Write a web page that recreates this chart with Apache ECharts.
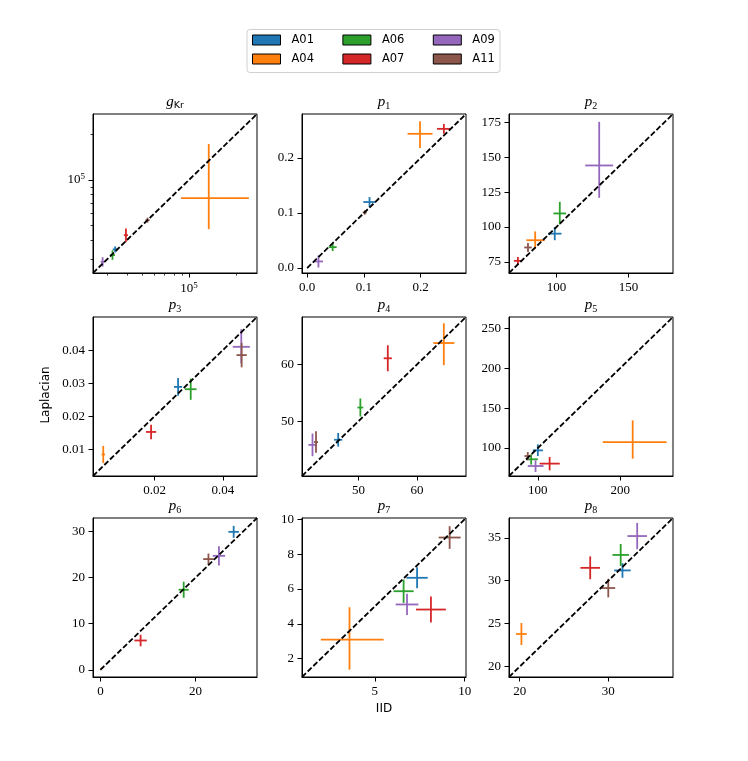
<!DOCTYPE html>
<html>
<head>
<meta charset="utf-8">
<script src="https://cdn.jsdelivr.net/npm/echarts@6/dist/echarts.min.js"></script>
<style>
  html, body { margin: 0; padding: 0; background: #fff; }
  #main { width: 748px; height: 761px; }
</style>
</head>
<body>
<div id="main"></div>
<script>
var groups = ['A01', 'A04', 'A06', 'A07', 'A09', 'A11'];
var colors = ['#1f77b4', '#ff7f0e', '#2ca02c', '#d62728', '#9467bd', '#8c564b'];

// one row per group: [IID, IID low, IID high, Laplacian, Laplacian low, Laplacian high]
var gKr = [
  [33700, 32500, 35000, 34800, 33200, 36400],
  [134000, 89000, 242000, 76000, 47400, 173000],
  [32400, 31200, 33600, 31900, 29700, 34300],
  [39500, 38300, 40700, 43200, 39000, 47900],
  [28000, 27200, 28800, 28800, 26800, 30900],
  [54300, 52700, 56000, 54300, 52300, 56400]
];
var p1 = [
  [0.110, 0.099, 0.121, 0.120, 0.111, 0.129],
  [0.199, 0.177, 0.221, 0.244, 0.218, 0.267],
  [0.045, 0.038, 0.052, 0.038, 0.031, 0.045],
  [0.241, 0.229, 0.253, 0.253, 0.244, 0.262],
  [0.020, 0.012, 0.028, 0.012, 0.001, 0.023],
  [0.1016, 0.098, 0.105, 0.101, 0.097, 0.105]
];
var p2 = [
  [98.8, 94.1, 103.5, 95.2, 90.5, 99.9],
  [85.2, 79.1, 91.8, 90.5, 84.2, 96.8],
  [102.3, 97.9, 106.7, 109.7, 101.8, 118.0],
  [73.2, 70.4, 76.0, 75.7, 72.9, 78.5],
  [129.7, 120.0, 139.4, 144.1, 120.9, 175.4],
  [80.2, 77.6, 82.8, 85.3, 82.1, 88.5]
];
var p3 = [
  [0.0269, 0.0257, 0.0281, 0.0289, 0.0262, 0.0316],
  [0.0050, 0.0045, 0.0055, 0.0085, 0.0059, 0.0111],
  [0.0306, 0.0289, 0.0323, 0.0282, 0.0250, 0.0314],
  [0.0190, 0.0175, 0.0205, 0.0153, 0.0131, 0.0175],
  [0.0454, 0.0429, 0.0479, 0.0410, 0.0360, 0.0463],
  [0.0455, 0.0440, 0.0470, 0.0385, 0.0348, 0.0422]
];
var p4 = [
  [46.5, 45.8, 47.2, 46.7, 45.5, 47.9],
  [64.6, 62.8, 66.4, 63.8, 59.9, 67.3],
  [50.3, 49.8, 50.8, 52.4, 50.8, 54.0],
  [55.0, 54.3, 55.7, 61.1, 58.8, 63.4],
  [42.1, 41.4, 42.8, 45.8, 43.8, 47.8],
  [42.7, 42.35, 43.05, 46.3, 44.4, 48.2]
];
var p5 = [
  [100, 93.9, 106.1, 97.1, 90, 104.6],
  [215.1, 178.8, 256.3, 107.5, 86.7, 134.6],
  [91.9, 85.8, 100, 85.9, 79.2, 92.1],
  [114.3, 102.1, 126.6, 80.5, 72.1, 88.8],
  [97.2, 87.8, 107, 77.5, 70, 84.6],
  [87.8, 83.7, 91.9, 90, 84.6, 95]
];
var p6 = [
  [28.0, 26.9, 29.1, 29.9, 28.6, 31.2],
  [0.2, 0.1, 0.3, 0.3, 0.2, 0.4],
  [17.5, 16.45, 18.55, 17.35, 15.6, 19.1],
  [8.45, 7.15, 9.75, 6.36, 5.1, 7.6],
  [24.9, 23.6, 26.2, 24.7, 22.6, 26.8],
  [22.7, 21.6, 23.8, 24.0, 22.8, 25.2]
];
var p7 = [
  [7.35, 6.76, 7.94, 6.64, 6.04, 7.24],
  [3.59, 2.0, 5.49, 3.09, 1.37, 4.95],
  [6.60, 6.04, 7.16, 5.87, 5.2, 6.54],
  [8.12, 7.29, 8.95, 4.82, 4.07, 5.57],
  [6.79, 6.16, 7.42, 5.11, 4.5, 5.72],
  [9.16, 8.55, 9.77, 8.95, 8.3, 9.6]
];
var p8 = [
  [31.6, 30.67, 32.53, 31.2, 30.35, 32.05],
  [20.2, 19.6, 20.8, 23.8, 22.52, 25.08],
  [31.4, 30.47, 32.33, 33.0, 31.72, 34.28],
  [27.96, 26.86, 29.06, 31.5, 30.17, 32.83],
  [33.26, 32.16, 34.36, 35.2, 33.67, 36.73],
  [30.0, 29.22, 30.78, 29.15, 28.07, 30.23]
];

var panelData = [gKr, p1, p2, p3, p4, p5, p6, p7, p8];
var panelTitles = ['{p|g}{k|Kr}', '{p|p}{s|1}', '{p|p}{s|2}', '{p|p}{s|3}', '{p|p}{s|4}',
                   '{p|p}{s|5}', '{p|p}{s|6}', '{p|p}{s|7}', '{p|p}{s|8}'];
var axisRanges = [[24300, 273000], [-0.009, 0.28], [67, 181], [0.002, 0.050], [40.3, 68.4],
                  [65, 264], [-1.55, 32.9], [0.95, 10.07], [18.8, 37.3]];
var diagRanges = [[24300, 273000], [0, 0.28], [67, 181], [0.002, 0.050], [40.3, 68.4],
                  [65, 264], [0, 32.9], [0.95, 10.07], [18.8, 37.3]];
var xTicks = [[1e5], [0, 0.1, 0.2], [100, 150], [0.02, 0.04], [50, 60],
              [100, 200], [0, 20], [5, 10], [20, 30]];
var yTicks = [[1e5], [0, 0.1, 0.2], [75, 100, 125, 150, 175], [0.01, 0.02, 0.03, 0.04], [50, 60],
              [100, 150, 200, 250], [0, 10, 20, 30], [2, 4, 6, 8, 10], [20, 25, 30, 35]];
var labelDigits = [0, 1, 0, 2, 0, 0, 0, 0, 0];
var logMinorTicks = [3e4, 4e4, 5e4, 6e4, 7e4, 8e4, 9e4, 2e5];

var gridLeft = [93, 302, 509];
var gridTop = [114, 317, 518];
var gridW = 164, gridH = 159;

var serif = 'Liberation Serif';
var tickFont = { color: '#000', fontFamily: serif, fontSize: 13 };
var powRich = {
  b: { fontFamily: serif, fontSize: 13, lineHeight: 16, color: '#000' },
  e: { fontFamily: serif, fontSize: 9, lineHeight: 9, verticalAlign: 'top', color: '#000' }
};

function labelFormatter(i) {
  return function (v) {
    if (i === 0) return '{b|10}{e|' + Math.round(Math.log10(v)) + '}';
    return (+v).toFixed(labelDigits[i]);
  };
}

function renderCross(params, api) {
  var x = api.value(0), y = api.value(3);
  var l = api.coord([api.value(1), y]), r = api.coord([api.value(2), y]);
  var b = api.coord([x, api.value(4)]), t = api.coord([x, api.value(5)]);
  var c = api.visual('color');
  return {
    type: 'group',
    children: [
      { type: 'line', shape: { x1: l[0], y1: l[1], x2: r[0], y2: r[1] }, style: { stroke: c, lineWidth: 1.8 } },
      { type: 'line', shape: { x1: b[0], y1: b[1], x2: t[0], y2: t[1] }, style: { stroke: c, lineWidth: 1.8 } }
    ]
  };
}

var grids = [], xAxes = [], yAxes = [], titles = [], series = [];

for (var i = 0; i < 9; i++) {
  var gx = gridLeft[i % 3], gy = gridTop[Math.floor(i / 3)];
  grids.push({ left: gx, top: gy, width: gridW, height: gridH, show: true,
               borderColor: '#000', borderWidth: 1, backgroundColor: 'transparent' });
  titles.push({
    text: panelTitles[i], left: gx + gridW / 2, top: gy - 21, textAlign: 'center', padding: 0,
    textStyle: {
      fontWeight: 'normal',
      rich: {
        p: { fontFamily: serif, fontStyle: 'italic', fontWeight: 'normal', fontSize: 15, lineHeight: 18, color: '#000' },
        s: { fontFamily: serif, fontWeight: 'normal', fontSize: 10, lineHeight: 10, verticalAlign: 'bottom', color: '#000' },
        k: { fontFamily: 'DejaVu Sans', fontWeight: 'normal', fontSize: 9.5, lineHeight: 11, verticalAlign: 'bottom', color: '#000' }
      }
    }
  });
  var common = {
    gridIndex: i,
    type: i === 0 ? 'log' : 'value',
    logBase: 10,
    min: axisRanges[i][0],
    max: axisRanges[i][1],
    splitLine: { show: false },
    axisLine: { show: true, onZero: false, lineStyle: { color: '#000', width: 1 } }
  };
  xAxes.push(Object.assign({}, common, {
    position: 'bottom',
    axisTick: { show: true, length: 4.5, lineStyle: { color: '#000', width: 1 }, customValues: xTicks[i] },
    axisLabel: Object.assign({ customValues: xTicks[i], formatter: labelFormatter(i), margin: 8, rich: powRich }, tickFont)
  }));
  yAxes.push(Object.assign({}, common, {
    position: 'left',
    axisTick: { show: true, length: 4.5, lineStyle: { color: '#000', width: 1 }, customValues: yTicks[i] },
    axisLabel: Object.assign({ customValues: yTicks[i], formatter: labelFormatter(i), margin: 8, rich: powRich }, tickFont)
  }));

  for (var g = 0; g < groups.length; g++) {
    series.push({
      type: 'custom',
      name: groups[g],
      xAxisIndex: i,
      yAxisIndex: i,
      itemStyle: { color: colors[g] },
      encode: { x: [0, 1, 2], y: [3, 4, 5] },
      data: [panelData[i][g]],
      renderItem: renderCross,
      clip: true,
      z: 2
    });
  }
  series.push({
    type: 'line',
    xAxisIndex: i,
    yAxisIndex: i,
    data: [[diagRanges[i][0], diagRanges[i][0]], [diagRanges[i][1], diagRanges[i][1]]],
    symbol: 'none',
    silent: true,
    lineStyle: { color: '#000', width: 1.8, type: [5.5, 2.4] },
    z: 3
  });
}

// minor ticks for the log-log panel
var minorAxis = {
  gridIndex: 0, type: 'log', logBase: 10, min: axisRanges[0][0], max: axisRanges[0][1],
  splitLine: { show: false }, axisLine: { show: false },
  axisLabel: { show: false },
  axisTick: { show: true, length: 2.5, lineStyle: { color: '#000', width: 0.8 }, customValues: logMinorTicks }
};
xAxes.push(Object.assign({ position: 'bottom' }, minorAxis));
yAxes.push(Object.assign({ position: 'left' }, minorAxis));

var legendCommon = {
  left: 252, orient: 'horizontal', itemWidth: 28, itemHeight: 10, itemGap: 28.4, padding: 0,
  icon: 'rect', selectedMode: false,
  itemStyle: { borderColor: '#000', borderWidth: 1 },
  textStyle: { fontFamily: 'DejaVu Sans', fontSize: 11.5, color: '#000', padding: [0, 0, 0, 6] }
};

var myChart = echarts.init(document.getElementById('main'));
myChart.setOption({
  animation: false,
  backgroundColor: '#fff',
  title: titles,
  legend: [
    Object.assign({ top: 34, data: ['A01', 'A06', 'A09'] }, legendCommon),
    Object.assign({ top: 53, data: ['A04', 'A07', 'A11'] }, legendCommon)
  ],
  graphic: [
    { type: 'rect', shape: { x: 247, y: 29.5, width: 253, height: 43, r: 3 },
      style: { fill: '#fff', stroke: '#d0d0d0', lineWidth: 1 }, z: 0 },
    { type: 'text', x: 46, y: 395, rotation: Math.PI / 2,
      style: { text: 'Laplacian', fill: '#000', font: '12px "DejaVu Sans"', align: 'center', verticalAlign: 'middle' } },
    { type: 'text', x: 384, y: 708.5,
      style: { text: 'IID', fill: '#000', font: '12px "DejaVu Sans"', align: 'center', verticalAlign: 'middle' } }
  ],
  grid: grids,
  xAxis: xAxes,
  yAxis: yAxes,
  series: series
});
</script>
</body>
</html>
